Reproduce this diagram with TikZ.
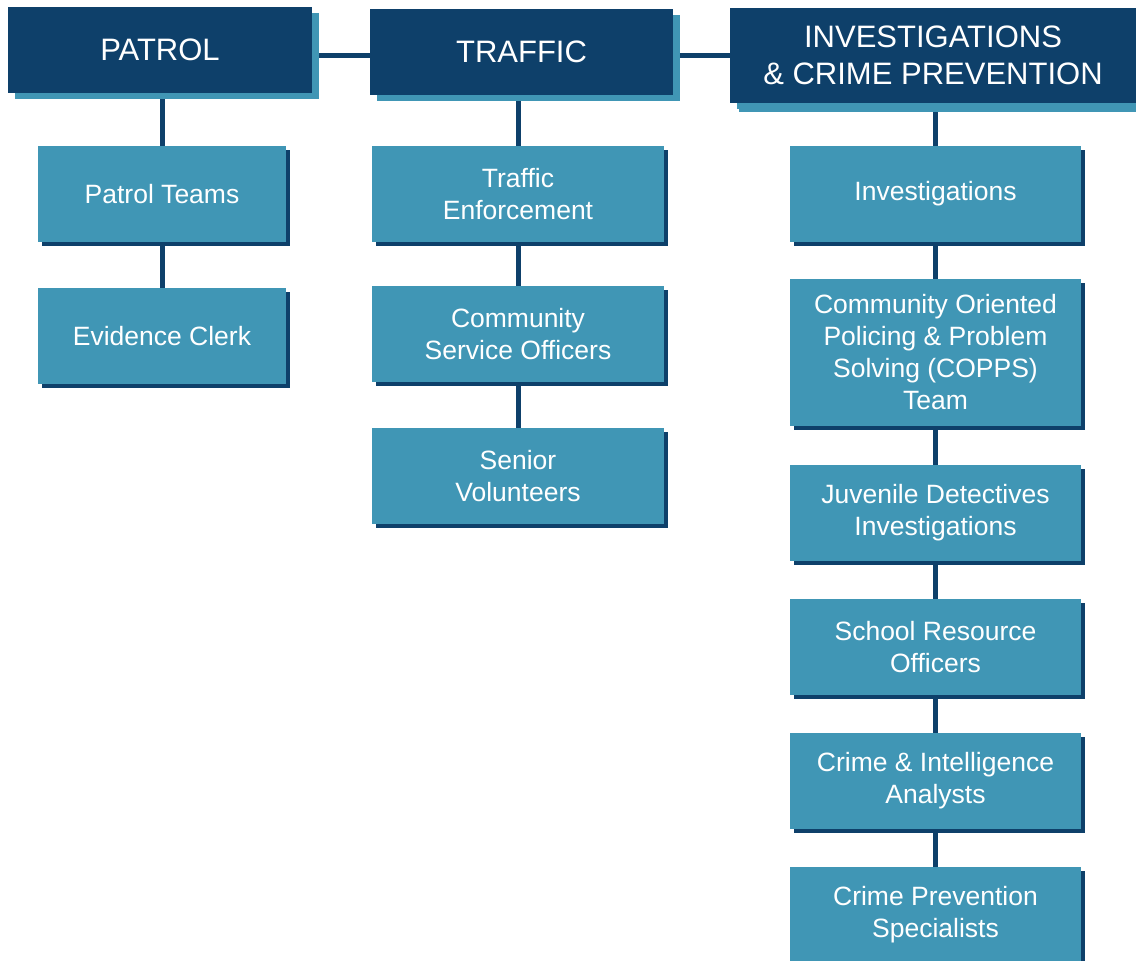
\documentclass[tikz,border=0pt]{standalone}
\usepackage{fontspec}
\setmainfont{Liberation Sans}
\usepackage{tikz}
\usetikzlibrary{shadows,backgrounds}
\definecolor{navy}{RGB}{14,64,106}
\definecolor{lteal}{RGB}{64,150,181}

\begin{document}
\begin{tikzpicture} [x=1pt,y=-1pt,{head/.style={rectangle,fill=navy,text=white,inner sep=0pt,align=center,font=\fontsize{31}{37}\selectfont,general shadow={fill=lteal,shadow xshift=7pt,shadow yshift=-6pt}}},{unit/.style={rectangle,fill=lteal,text=white,inner sep=0pt,align=center,minimum height=96pt,font=\fontsize{26.5}{32}\selectfont,general shadow={fill=navy,shadow xshift=4pt,shadow yshift=-4pt}}},{link/.style={draw=navy,line width=5pt}}]
	\useasboundingbox (0,0) rectangle (1136,961);
	%%divisions
	\node [head,minimum width=304pt,minimum height=86pt] (patrol) at (160,50) {PATROL};
	\node [head,minimum width=303pt,minimum height=86pt] (traffic) at (521.5,52) {TRAFFIC};
	\node [head,minimum width=406pt,minimum height=95pt,general shadow={fill=lteal,shadow xshift=9pt,shadow yshift=-9pt}] (invest) at (933,55.5) {INVESTIGATIONS\\\& CRIME PREVENTION};
	%%patrol units
	\node [unit,minimum width=248pt] (pteams) at (162,194) {Patrol Teams};
	\node [unit,minimum width=248pt] (evclerk) at (162,336) {Evidence Clerk};
	%%traffic units
	\node [unit,minimum width=292pt] (tenforce) at (518,194) {Traffic\\Enforcement};
	\node [unit,minimum width=292pt] (cso) at (518,334) {Community\\Service Officers};
	\node [unit,minimum width=292pt] (senior) at (518,476) {Senior\\Volunteers};
	%%investigation units
	\node [unit,minimum width=291pt] (invunit) at (935.5,194) {Investigations};
	\node [unit,minimum width=291pt,minimum height=147pt] (copps) at (935.5,352.5) {Community Oriented\\Policing \& Problem\\Solving (COPPS)\\Team};
	\node [unit,minimum width=291pt] (juvenile) at (935.5,513) {Juvenile Detectives\\Investigations};
	\node [unit,minimum width=291pt] (sro) at (935.5,647) {School Resource\\Officers};
	\node [unit,minimum width=291pt] (analysts) at (935.5,781) {Crime \& Intelligence\\Analysts};
	\node [unit,minimum width=291pt] (cps) at (935.5,915) {Crime Prevention\\Specialists};
	%%links
	\begin{scope}[on background layer]
	\draw [link] (patrol.center |- invest.center) -- (invest.center);
	\draw [link] (pteams |- patrol.center) -- (pteams) -- (evclerk);
	\draw [link] (tenforce |- traffic.center) -- (tenforce) -- (cso) -- (senior);
	\draw [link] (invunit |- invest.center) -- (invunit) -- (copps) -- (juvenile) -- (sro) -- (analysts) -- (cps);
	\end{scope}
\end{tikzpicture}
\end{document}
